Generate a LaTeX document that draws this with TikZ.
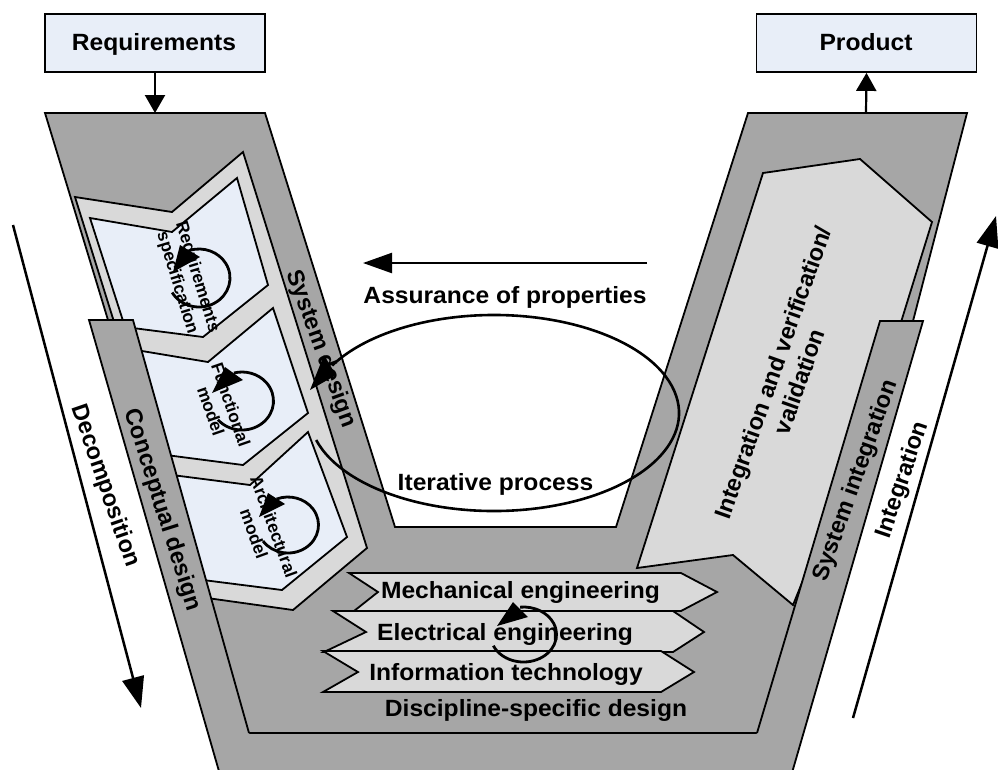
\documentclass[tikz,border=0pt]{standalone}
\usepackage{fontspec}
\setmainfont{Liberation Sans}
\usetikzlibrary{arrows.meta}
\definecolor{vgray}{HTML}{A6A6A6}
\definecolor{lgray}{HTML}{D9D9D9}
\definecolor{pblue}{HTML}{E8EEF8}
\begin{document}
\begin{tikzpicture}[x=1pt,y=-1pt,
  shp/.style={line width=1.8pt, line join=miter, draw=black},
  htxt/.style={font=\bfseries\fontsize{23.5}{28}\selectfont, inner sep=0pt, xscale=1.047, anchor=base},
  rtxt/.style={font=\bfseries\fontsize{23.5}{28}\selectfont, inner sep=0pt, align=center},
  stxt/.style={font=\bfseries\fontsize{17.3}{21}\selectfont, inner sep=0pt, align=center},
  topbox/.style={draw=black, line width=1.8pt, fill=pblue, minimum width=220pt, minimum height=58pt, inner sep=0pt},
  loopline/.style={line width=2.8pt},
  tipfill/.style={fill=black},
  longar/.style={line width=2.5pt, -{Triangle[length=31pt,width=22pt]}},
  midar/.style={line width=2.3pt, -{Triangle[length=29pt,width=20pt]}},
  smallar/.style={line width=2.2pt, -{Triangle[length=18pt,width=20pt]}}]
\useasboundingbox (0,0) rectangle (998,769);
\clip (0,0) rectangle (998,769);
\fill[white] (0,0) rectangle (998,769);

% outer V
\draw[shp, fill=vgray] (45,113) -- (265,113) -- (395,527) -- (616,527) -- (748,113) -- (967,113)
  -- (913,321) -- (786,790) -- (224.4,790) -- (108,320) -- cycle;
% discipline-specific region bottom
\coordinate (dsL) at (249,733);
\coordinate (dsR) at (757,733);
\draw[shp] (dsL) -- (dsR);

% left stack
\draw[shp, fill=lgray] (75,197) -- (172,212) -- (243,152) -- (367,548) -- (293,610) -- (200,597) -- cycle;
\draw[shp, fill=pblue] (90,218) -- (172,232) -- (237,178) -- (268,285) -- (203,337) -- (125,327) -- cycle;
\draw[shp, fill=pblue] (136,350) -- (208,362) -- (273,308) -- (308,413) -- (243,465) -- (166,455) -- cycle;
\draw[shp, fill=pblue] (172,475) -- (250,485) -- (308,432) -- (347,537) -- (282,590) -- (203,580) -- cycle;

% chevrons
\draw[shp, fill=lgray] (349,573) -- (681,573) -- (717,592) -- (681,611) -- (354,611) -- (378,592) -- cycle;
\draw[shp, fill=lgray] (333,611) -- (673,611) -- (704,632) -- (673,652) -- (324,652) -- (366,632) -- cycle;
\draw[shp, fill=lgray] (323,651) -- (661,651) -- (694,672) -- (661,692) -- (323,692) -- (358,672) -- cycle;

% integration shape
\draw[shp, fill=lgray] (637,568) -- (763,173) -- (860,159) -- (932,222) -- (880,390) -- (793,605) -- (733,555) -- cycle;

% conceptual design bar
\fill[vgray] (89,320) -- (133,320) -- (265,790) -- (224.4,790) -- cycle;
\draw[shp] (249,733) -- (133,320) -- (89,320) -- (224.4,790);
% system integration bar
\fill[vgray] (880,321) -- (923,321) -- (787,790) -- (740,790) -- cycle;
\draw[shp] (757,733) -- (880,321) -- (923,321) -- (787,790);

% texts
\node[stxt, rotate=-73] (trs) at (187,280) {Requirements\\specification};
\node[stxt, rotate=-71] (tfm) at (221,408) {Functional\\model};
\node[stxt, rotate=-70] (tam) at (264,530) {Architectural\\model};
\node[rtxt, rotate=-70] (tsd) at (321,349) {System design};
\node[rtxt, rotate=-72.5] (tcd) at (162,510) {Conceptual design};
\node[rtxt, rotate=-71] (tdec) at (105,486) {Decomposition};
\node[rtxt, rotate=70.4] (tsi) at (856,481) {System integration};
\node[rtxt, rotate=71.3] (tint) at (903,480) {Integration};
\node[rtxt, rotate=70.5] (tiv) at (786,377) {Integration and verification/\\validation};
\node[htxt] (tas) at (505,303) {Assurance of properties};
\node[htxt] (tip) at (495.5,490.5) {Iterative process};
\node[htxt] (tme) at (520.5,598) {Mechanical engineering};
\node[htxt] (tel) at (505,640) {Electrical engineering};
\node[htxt] (tit) at (506,680) {Information technology};
\node[htxt] (tds) at (536,716.5) {Discipline-specific design};

% loops with arrowheads
\draw[loopline] (199,278) ++(150:31 and 29) arc[start angle=150, end angle=-107, x radius=31, y radius=29];
\fill[tipfill] (180,245) -- (200,257) -- (173,272) -- cycle;
\draw[loopline] (242,401) ++(140:31.5 and 29) arc[start angle=140, end angle=-105, x radius=31.5, y radius=29];
\fill[tipfill] (225,367) -- (243,380) -- (212,393) -- cycle;
\draw[loopline] (288,525) ++(145:30.5 and 28) arc[start angle=145, end angle=-112, x radius=30.5, y radius=28];
\fill[tipfill] (268,493) -- (285,504) -- (259,517) -- cycle;
\draw[loopline] (523.5,634.5) ++(156:33 and 27.5) arc[start angle=156, end angle=-96, x radius=33, y radius=27.5];
\fill[tipfill] (513,602) -- (528,617) -- (497,626) -- cycle;
% iterative ellipse
\draw[line width=2.6pt] (494,413) ++(164:185 and 98) arc[start angle=164, end angle=-151, x radius=185, y radius=98];
\fill[tipfill] (324,355) -- (336,375) -- (310,390) -- cycle;

% assurance arrow
\coordinate (asA) at (647,263);
\coordinate (asB) at (363,263);
\draw[midar] (asA) -- (asB);

% top boxes
\node[topbox] (req) at (155,43) {};
\node[htxt] (treq) at (154,50) {Requirements};
\node[topbox] (prod) at (866.5,43) {};
\node[htxt] (tprod) at (866,50) {Product};
\coordinate (vinL) at (155,113);
\coordinate (voutR) at (866,113);
\draw[smallar] (req.south) -- (vinL);
\draw[smallar] (voutR) -- (prod.south);

% side arrows
\coordinate (decA) at (13,225);
\coordinate (decB) at (141,708);
\draw[longar] (decA) -- (decB);
\coordinate (intA) at (853,718);
\coordinate (intB) at (996,216);
\draw[longar] (intA) -- (intB);
\end{tikzpicture}
\end{document}
